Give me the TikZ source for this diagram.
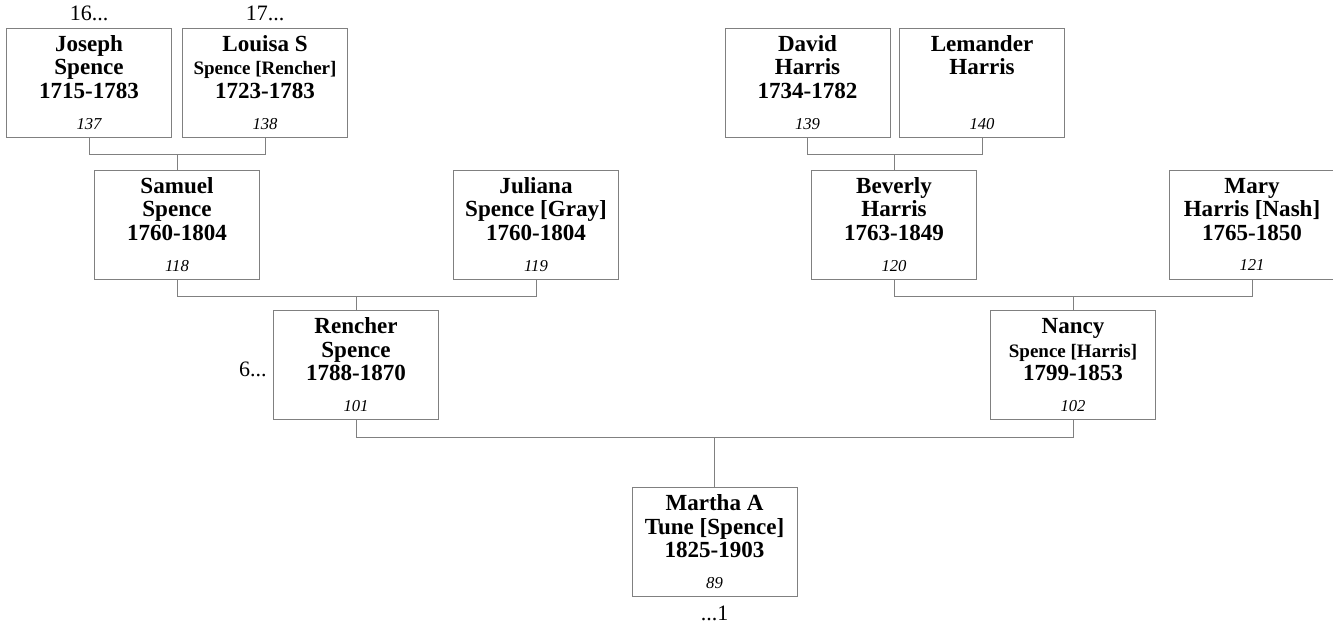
\documentclass[tikz,border=0pt]{standalone}
\usepackage{fontspec}
\setmainfont{Liberation Serif}
\usepackage{tikz}
\usetikzlibrary{positioning}
\definecolor{LineGray}{RGB}{128,128,128}

\tikzset{
  person/.style={draw=LineGray,line width=0.75pt,minimum width=123.75pt,minimum height=81.75pt,
    inner sep=0pt,align=center,font=\fontsize{17.3}{17.6}\selectfont\bfseries},
  link/.style={draw=LineGray,line width=0.75pt},
  gen/.style={font=\fontsize{16.5}{20}\selectfont,inner sep=0pt}
}
\newcommand{\pnum}[1]{\\[5.6pt]{\fontsize{12.5}{15}\selectfont\mdseries\itshape #1}}
\newcommand{\pmid}[1]{{\fontsize{14.25}{17}\selectfont #1}}

\begin{document}
\begin{tikzpicture}[x=0.75pt,y=-0.75pt]
\useasboundingbox (0,0) rectangle (1333,625);
% great-grandparents
\node[person] (p137) at (89,82.5) {Joseph\\Spence\\1715-1783\pnum{137}};
\node[person] (p138) at (265,82.5) {Louisa S\\\pmid{Spence [Rencher]}\\1723-1783\pnum{138}};
\node[person] (p139) at (807.5,82.5) {David\\Harris\\1734-1782\pnum{139}};
\node[person] (p140) at (982,82.5) {Lemander\\Harris\\\mbox{}\pnum{140}};
% grandparents
\node[person] (p118) at (177,224.5) {Samuel\\Spence\\1760-1804\pnum{118}};
\node[person] (p119) at (536,224.5) {Juliana\\Spence [Gray]\\1760-1804\pnum{119}};
\node[person] (p120) at (894,224.5) {Beverly\\Harris\\1763-1849\pnum{120}};
\node[person] (p121) at (1252,224.5) {Mary\\Harris [Nash]\\1765-1850\pnum{121}};
% parents
\node[person] (p101) at (356,365) {Rencher\\Spence\\1788-1870\pnum{101}};
\node[person] (p102) at (1073,365) {Nancy\\\pmid{Spence [Harris]}\\1799-1853\pnum{102}};
% root
\node[person] (p89) at (714.5,542) {Martha A\\Tune [Spence]\\1825-1903\pnum{89}};

% continuation marks
\node[gen,above=4.5pt of p137] (g16) {16...};
\node[gen,above=4.5pt of p138] (g17) {17...};
\node[gen,left=4.5pt of p101,yshift=-3pt] (g6) {6...};
\node[gen,below=6.75pt of p89] (g1) {...1};

% family lines
\draw[link] (p137.south) -- ++(0,17) coordinate (j118) -| (p138.south);
\draw[link] (p118.north) -- (p118.north |- j118);
\draw[link] (p139.south) -- ++(0,17) coordinate (j120) -| (p140.south);
\draw[link] (p120.north) -- (p120.north |- j120);
\draw[link] (p118.south) -- ++(0,16.5) coordinate (j101) -| (p119.south);
\draw[link] (p101.north) -- (p101.north |- j101);
\draw[link] (p120.south) -- ++(0,16.5) coordinate (j102) -| (p121.south);
\draw[link] (p102.north) -- (p102.north |- j102);
\draw[link] (p101.south) -- ++(0,17.5) coordinate (j89) -| (p102.south);
\draw[link] (p89.north) -- (p89.north |- j89);
\end{tikzpicture}
\end{document}
